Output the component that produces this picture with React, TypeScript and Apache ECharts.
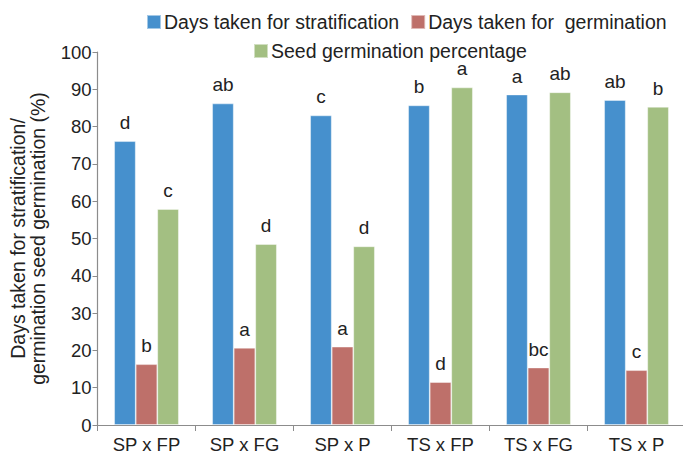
import React, { useEffect, useRef } from "react";
import * as echarts from "echarts";

const categories = ["SP x FP", "SP x FG", "SP x P", "TS x FP", "TS x FG", "TS x P"];
const stratDays = [76.1, 86.2, 83.0, 85.7, 88.6, 87.1];
const germDays = [16.3, 20.7, 21.0, 11.5, 15.4, 14.7];
const germPct = [57.9, 48.5, 47.9, 90.5, 89.2, 85.3];
const stratLetters = ["d", "ab", "c", "b", "a", "ab"];
const germLetters = ["b", "a", "a", "d", "bc", "c"];
const pctLetters = ["c", "d", "d", "a", "ab", "b"];
const seriesNames = [
  "Days taken for stratification",
  "Days taken for  germination",
  "Seed germination percentage",
];
const yTicks = [0, 10, 20, 30, 40, 50, 60, 70, 80, 90, 100];

const FONT = "Liberation Sans, Arial, sans-serif";

export default function App() {
  const ref = useRef<HTMLDivElement>(null);
  useEffect(() => {
    document.body.style.margin = "0";
    const chart = echarts.init(ref.current!, null, { renderer: "svg" });
    const mk = (name: string, data: number[], letters: string[], color: string) => ({
      name,
      type: "bar",
      data,
      barGap: "0%",
      barCategoryGap: "34%",
      itemStyle: { color, borderColor: "rgba(255,255,255,0.5)", borderWidth: 0.8 },
      label: {
        show: true,
        position: "top",
        distance: 9,
        fontFamily: FONT,
        fontSize: 19,
        color: "#222",
        formatter: (p: any) => letters[p.dataIndex],
      },
    });
    chart.setOption({
      animation: false,
      textStyle: { fontFamily: FONT },
      legend: [
        {
          data: [seriesNames[0], seriesNames[1]],
          left: 141,
          top: 7,
          itemWidth: 14,
          itemHeight: 14,
          itemGap: 11,
          icon: "rect",
          textStyle: { fontFamily: FONT, fontSize: 19.5, color: "#222", padding: [0, 0, 0, -2] },
        },
        {
          data: [seriesNames[2]],
          left: 248,
          top: 36,
          itemWidth: 14,
          itemHeight: 14,
          icon: "rect",
          textStyle: { fontFamily: FONT, fontSize: 19.5, color: "#222", padding: [0, 0, 0, -2] },
        },
      ],
      grid: {
        left: 97.5,
        top: 52,
        right: -2.5,
        bottom: 36,
        containLabel: false,
        outerBoundsMode: "none",
      },
      xAxis: {
        type: "category",
        data: categories,
        axisLine: { lineStyle: { color: "#8c8c8c", width: 1.2 } },
        axisTick: { show: true, length: 6, alignWithLabel: false, lineStyle: { color: "#8c8c8c" } },
        axisLabel: { fontFamily: FONT, fontSize: 18.5, color: "#222", margin: 10 },
      },
      yAxis: {
        type: "value",
        min: 0,
        max: 100,
        interval: 10,
        name: "Days taken for stratification/\ngermination seed germination (%)",
        nameLocation: "middle",
        nameGap: 50,
        nameTextStyle: { fontFamily: FONT, fontSize: 19.5, color: "#222", lineHeight: 20 },
        splitLine: { show: false },
        axisLine: { show: true, lineStyle: { color: "#8c8c8c", width: 1.2 } },
        axisTick: { show: true, length: 5, lineStyle: { color: "#8c8c8c" } },
        axisLabel: {
          fontFamily: FONT,
          fontSize: 18.5,
          color: "#222",
          margin: 6,
          formatter: (v: number) => (yTicks.includes(v) ? String(v) : ""),
        },
      },
      series: [
        mk(seriesNames[0], stratDays, stratLetters, "#4690cd"),
        mk(seriesNames[1], germDays, germLetters, "#be706a"),
        mk(seriesNames[2], germPct, pctLetters, "#a3bf82"),
      ],
    });
    return () => chart.dispose();
  }, []);
  return <div ref={ref} style={{ width: 683, height: 461 }} />;
}
